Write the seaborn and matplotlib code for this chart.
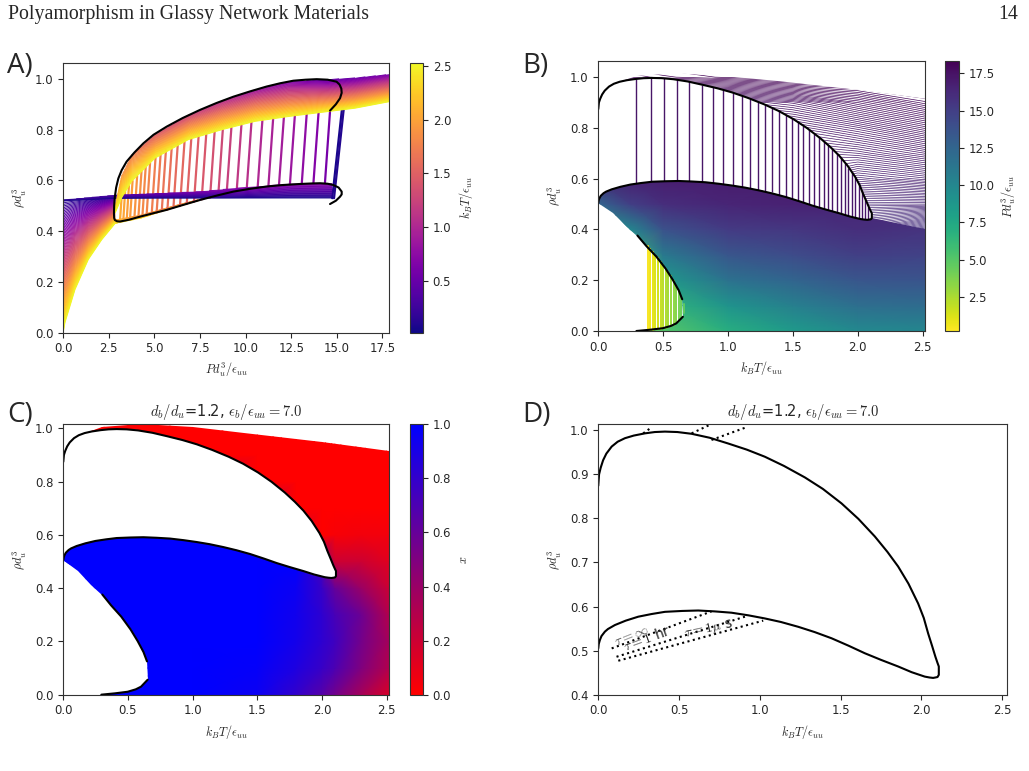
#!/usr/bin/env python3
# -*- coding: utf-8 -*-
"""
Phase diagram figure, d_b/d_u = 1.2, eps_b/eps_uu = 7.0

A) isotherms in the P-rho plane, B) isobars in the T-rho plane,
C) bonded fraction x, D) binodal with glass transition lines
"""

import numpy as np
import matplotlib.pyplot as plt
from matplotlib import cm
from matplotlib.colors import Normalize, LinearSegmentedColormap
from matplotlib.patches import Polygon
import seaborn as sns

sns.set_style('ticks')
plt.rcParams.update({'font.family': ['DejaVu Sans'], 'mathtext.fontset': 'cm',
                     'xtick.labelsize': 8.4, 'ytick.labelsize': 8.4,
                     'axes.labelsize': 8.8, 'axes.titlesize': 10.5,
                     'axes.edgecolor': '0.2', 'axes.linewidth': 0.8})

# ---------------- data ----------------
# binodal loop in the T-rho plane (dense branch first, then back along the low-density branch)
bin_T = [0.0, 0.005, 0.015, 0.03, 0.05, 0.083, 0.12, 0.165, 0.22, 0.289, 0.35, 0.413, 0.49, 0.578,
         0.69, 0.804, 0.92, 1.031, 1.15, 1.279, 1.39, 1.506, 1.61, 1.712, 1.79, 1.856, 1.92, 1.980,
         2.015, 2.042, 2.067, 2.087, 2.100, 2.108, 2.108, 2.100, 2.087, 2.073, 2.05, 2.021, 1.94,
         1.856, 1.75, 1.650, 1.55, 1.444, 1.34, 1.238, 1.13, 1.031, 0.93, 0.825, 0.72, 0.619, 0.52,
         0.413, 0.33, 0.248, 0.17, 0.103, 0.06, 0.041, 0.02, 0.010, 0.003, 0.0]
bin_rho = [0.874, 0.900, 0.915, 0.932, 0.947, 0.963, 0.974, 0.982, 0.988, 0.993, 0.996, 0.997, 0.996,
           0.992, 0.983, 0.970, 0.956, 0.940, 0.919, 0.893, 0.867, 0.834, 0.799, 0.759, 0.724, 0.691,
           0.652, 0.607, 0.574, 0.539, 0.510, 0.486, 0.472, 0.464, 0.445, 0.440, 0.439, 0.438, 0.439,
           0.441, 0.451, 0.464, 0.479, 0.494, 0.511, 0.528, 0.542, 0.554, 0.565, 0.573, 0.580, 0.586,
           0.589, 0.591, 0.590, 0.588, 0.583, 0.577, 0.568, 0.558, 0.549, 0.543, 0.533, 0.524, 0.515,
           0.505]

# gas-liquid coexistence (low density), upper and lower branch
gas_up_T = [0.302, 0.37, 0.448, 0.52, 0.575, 0.62, 0.647]
gas_up_rho = [0.376, 0.335, 0.293, 0.245, 0.201, 0.16, 0.125]
gas_lo_T = [0.294, 0.40, 0.498, 0.56, 0.601, 0.652]
gas_lo_rho = [0.0, 0.005, 0.011, 0.02, 0.030, 0.056]

# outer edges of the coloured region in B and C
env_T = [0.15, 0.3, 0.6, 1.0, 1.4, 2.0, 2.52]
env_rho = [0.98, 1.005, 1.015, 1.003, 0.984, 0.95, 0.915]
edge_T = [0.0, 0.115, 0.218, 0.302]
edge_rho = [0.505, 0.464, 0.411, 0.376]
split_rho = 0.40      # where the upper and lower isobar families meet at the right edge

# binodal in the P-rho plane (panel A)
binP_P = [14.63, 14.95, 15.18, 15.27, 15.25, 15.15, 14.99, 14.5, 13.9, 13.3, 12.62, 11.9, 11.15,
          10.25, 9.33, 8.4, 7.5, 6.55, 5.67, 4.95, 4.39, 3.9, 3.47, 3.2, 3.02, 2.9, 2.83, 2.79, 2.78,
          2.79, 2.83, 2.95, 3.11, 3.6, 4.2, 4.9, 5.67, 6.6, 7.5, 8.4, 9.33, 10.25, 11.15, 12.05,
          12.98, 13.6, 14.08, 14.5, 14.81, 15.1, 15.27, 15.27, 15.18, 14.95, 14.63]
binP_rho = [0.875, 0.9, 0.924, 0.945, 0.962, 0.978, 0.989, 0.997, 0.999, 0.997, 0.993, 0.983, 0.970,
            0.951, 0.930, 0.905, 0.878, 0.846, 0.812, 0.78, 0.746, 0.71, 0.674, 0.64, 0.608, 0.572,
            0.536, 0.5, 0.470, 0.452, 0.444, 0.439, 0.438, 0.445, 0.457, 0.47, 0.484, 0.504, 0.523,
            0.54, 0.556, 0.567, 0.576, 0.582, 0.586, 0.588, 0.589, 0.587, 0.582, 0.572, 0.556, 0.545,
            0.536, 0.52, 0.507]

# panel A isotherm families: edges of each bundle and the temperature on each edge
fan_P = [0.0, 0.09, 0.64, 1.37, 2.1, 2.84]
fan_bot = [0.0, 0.037, 0.168, 0.287, 0.365, 0.43]
fan_top = [0.522, 0.523, 0.525, 0.527, 0.529, 0.531]
fan_Tbot = [2.52, 2.52, 2.52, 2.52, 2.52, 2.52]
fan_Ttop = [0.12, 0.12, 0.13, 0.15, 0.2, 0.3]

band_P = [2.84, 3.2, 3.75, 5.03, 6.86, 8.69, 10.52, 12.34, 14.54, 16.0, 17.9]
band_bot = [0.47, 0.53, 0.595, 0.687, 0.76, 0.799, 0.832, 0.851, 0.871, 0.884, 0.91]
band_top = [0.50, 0.62, 0.70, 0.78, 0.857, 0.913, 0.957, 0.99, 0.998, 1.004, 1.018]
band_Tbot = [2.52, 2.52, 2.52, 2.52, 2.52, 2.52, 2.52, 2.52, 2.52, 2.52, 2.52]
band_Ttop = [2.2, 1.9, 1.7, 1.45, 1.25, 1.05, 0.85, 0.65, 0.45, 0.5, 0.6]

lowb_P = [0.0, 2.84, 5.0, 7.5, 10.0, 12.5, 14.75]
lowb_bot = [0.521, 0.529, 0.530, 0.530, 0.530, 0.530, 0.530]
lowb_top = [0.523, 0.542, 0.548, 0.556, 0.573, 0.586, 0.588]
lowb_Tbot = [0.04, 0.04, 0.04, 0.04, 0.04, 0.04, 0.04]
lowb_Ttop = [0.15, 0.35, 0.5, 0.6, 0.7, 0.72, 0.72]

org_P = [2.84, 4.3, 5.95, 7.4]
org_bot = [0.43, 0.452, 0.49, 0.52]
org_top = [0.444, 0.464, 0.497, 0.524]
org_Tbot = [2.4, 2.3, 2.2, 2.1]
org_Ttop = [2.0, 1.9, 1.8, 1.7]

# panel A tie lines (start, end, temperature)
tieA_P0 = [3.11, 3.29, 3.48, 3.66, 3.90, 4.12, 4.34, 4.57, 4.85, 5.12, 5.40, 5.71, 6.04, 6.40, 6.77,
           7.17, 7.59, 8.05, 8.50, 8.96, 9.51, 10.06, 10.66, 11.25, 11.83, 12.43, 13.08, 13.72, 14.35,
           14.75, 14.85]
tieA_rho0 = [0.44, 0.442, 0.445, 0.448, 0.452, 0.456, 0.46, 0.464, 0.469, 0.474, 0.479, 0.485, 0.492,
             0.499, 0.507, 0.516, 0.525, 0.533, 0.541, 0.549, 0.558, 0.565, 0.571, 0.577, 0.581, 0.584,
             0.587, 0.589, 0.588, 0.53, 0.53]
tieA_P1 = [3.2, 3.39, 3.6, 3.8, 4.05, 4.29, 4.52, 4.76, 5.06, 5.34, 5.63, 5.95, 6.28, 6.65, 7.02,
           7.42, 7.84, 8.3, 8.75, 9.22, 9.77, 10.32, 10.92, 11.51, 12.1, 12.7, 13.35, 14.0, 14.63,
           15.28, 15.38]
tieA_rho1 = [0.535, 0.555, 0.578, 0.598, 0.617, 0.635, 0.652, 0.669, 0.689, 0.705, 0.719, 0.732, 0.743,
             0.753, 0.763, 0.772, 0.781, 0.791, 0.8, 0.808, 0.818, 0.828, 0.836, 0.843, 0.849, 0.855,
             0.861, 0.866, 0.872, 0.878, 0.88]
tieA_T = [2.05, 2.02, 1.98, 1.95, 1.9, 1.86, 1.82, 1.78, 1.74, 1.7, 1.65, 1.62, 1.58, 1.55, 1.51,
          1.47, 1.42, 1.36, 1.3, 1.22, 1.15, 1.08, 1.01, 0.96, 0.91, 0.85, 0.77, 0.69, 0.6, 0.06, 0.1]

# panel B pressure field (rows: rho, columns: T)
fieldB_T = [0.0, 0.25, 0.5, 1.0, 1.5, 2.0, 2.52]
fieldB_rho = [0.0, 0.1, 0.2, 0.3, 0.4, 0.5, 0.6, 0.7, 0.8, 0.9, 1.0, 1.07]
fieldB_P = [[1.0, 3.5, 5.0, 7.0, 8.5, 9.8, 10.0],
            [2.0, 4.0, 6.5, 9.0, 10.5, 11.8, 12.0],
            [3.0, 4.5, 8.5, 11.5, 12.5, 13.5, 13.6],
            [5.0, 5.5, 11.0, 13.5, 14.2, 15.0, 14.8],
            [8.0, 10.0, 13.8, 15.2, 15.5, 16.0, 15.7],
            [12.5, 15.0, 16.0, 16.5, 16.7, 16.4, 16.4],
            [16.8, 16.8, 16.9, 17.0, 17.0, 16.8, 16.9],
            [17.0, 17.0, 17.0, 17.1, 17.1, 17.15, 17.3],
            [17.2, 17.2, 17.2, 17.3, 17.35, 17.5, 17.7],
            [17.6, 17.6, 17.6, 17.6, 17.7, 17.9, 18.1],
            [18.2, 18.2, 18.25, 18.3, 18.35, 18.35, 18.35],
            [18.35, 18.35, 18.35, 18.35, 18.35, 18.35, 18.35]]

# panel B tie lines (vertical, coexistence)
tieB_T = [0.287, 0.409, 0.504, 0.606, 0.703, 0.798, 0.882, 0.964, 1.035, 1.107, 1.171, 1.23, 1.286,
          1.342, 1.393, 1.444, 1.49, 1.536, 1.58, 1.621, 1.662, 1.7, 1.736, 1.772, 1.805, 1.838,
          1.869, 1.9, 1.928, 1.956, 1.981, 2.007, 2.033, 2.056, 2.079]
tieB_hi = [0.993, 0.997, 0.996, 0.991, 0.983, 0.971, 0.960, 0.949, 0.939, 0.926, 0.914, 0.903, 0.891,
           0.878, 0.865, 0.851, 0.838, 0.824, 0.809, 0.794, 0.778, 0.764, 0.748, 0.733, 0.716, 0.70,
           0.683, 0.662, 0.644, 0.625, 0.606, 0.582, 0.55, 0.52, 0.49]
tieB_lo = [0.58, 0.588, 0.59, 0.591, 0.589, 0.586, 0.582, 0.577, 0.573, 0.567, 0.560, 0.555, 0.553,
           0.547, 0.535, 0.528, 0.521, 0.514, 0.506, 0.499, 0.492, 0.486, 0.481, 0.476, 0.471, 0.466,
           0.462, 0.458, 0.454, 0.450, 0.447, 0.444, 0.442, 0.44, 0.439]
tieB_P = 17.3

# panel B gas-liquid tie lines
stripe_T = [0.38, 0.40, 0.42, 0.44, 0.46, 0.48, 0.50, 0.52, 0.54, 0.56, 0.58, 0.60, 0.62, 0.64, 0.66]
stripe_top = [0.335, 0.322, 0.31, 0.298, 0.286, 0.273, 0.259, 0.245, 0.231, 0.215, 0.197, 0.178,
              0.158, 0.135, 0.105]
stripe_bot = [0.003, 0.004, 0.005, 0.007, 0.008, 0.009, 0.011, 0.013, 0.016, 0.02, 0.025, 0.03,
              0.038, 0.05, 0.07]
stripe_P = [0.4, 0.6, 0.9, 1.2, 1.5, 1.8, 2.1, 2.4, 2.7, 3.0, 3.3, 3.6, 3.9, 4.2, 4.6]

# panel C bonded fraction (rows: rho, columns: T)
fieldC_T = [0.0, 0.5, 1.0, 1.5, 1.8, 2.0, 2.1, 2.3, 2.52]
fieldC_rho = [0.0, 0.1, 0.2, 0.3, 0.4, 0.5, 0.6, 0.7, 0.8, 0.9, 1.07]
fieldC_x = [[1, 1, 1, 0.95, 0.8, 0.66, 0.55, 0.35, 0.15],
            [1, 1, 1, 0.98, 0.88, 0.78, 0.7, 0.5, 0.3],
            [1, 1, 1, 1, 0.92, 0.82, 0.75, 0.55, 0.35],
            [1, 1, 1, 1, 0.93, 0.82, 0.72, 0.58, 0.3],
            [1, 1, 1, 1, 0.95, 0.78, 0.6, 0.4, 0.2],
            [1, 1, 1, 1, 1, 0.7, 0.2, 0.2, 0.12],
            [1, 1, 1, 1, 0.3, 0.0, 0.03, 0.05, 0.05],
            [0.5, 1, 1, 0.5, 0, 0, 0, 0, 0],
            [0, 0.5, 0.5, 0, 0, 0, 0, 0, 0],
            [0, 0, 0, 0, 0, 0, 0, 0, 0],
            [0, 0, 0, 0, 0, 0, 0, 0, 0]]

# panel D glass transition lines
tau_inf_T, tau_inf_rho = [0.083, 0.701], [0.505, 0.589]
tau_hr_T, tau_hr_rho = [0.113, 0.908], [0.486, 0.577]
tau_us_T, tau_us_rho = [0.124, 1.021], [0.477, 0.568]
tau_inf_hi_T, tau_inf_hi_rho = [0.278, 0.32], [0.993, 1.004]
tau_hr_hi_T, tau_hr_hi_rho = [0.578, 0.70], [0.993, 1.014]
tau_us_hi_T, tau_us_hi_rho = [0.701, 0.918], [0.978, 1.007]

xlab_T = r'$k_BT/\epsilon_{uu}$'
xlab_P = r'$Pd_u^3/\epsilon_{uu}$'
ylab = r'$\rho d_u^3$'
title = r'$d_b/d_u$=1.2, $\epsilon_b/\epsilon_{uu}=7.0$'

# ---------------- figure ----------------
fig = plt.figure(figsize=(10.29, 7.71), dpi=100)
axA = fig.add_axes([0.0615, 0.5685, 0.3168, 0.3502])
caxA = fig.add_axes([0.3984, 0.5685, 0.0126, 0.3502])
axB = fig.add_axes([0.5814, 0.5707, 0.3178, 0.3506])
caxB = fig.add_axes([0.9184, 0.5707, 0.0131, 0.3506])
axC = fig.add_axes([0.0615, 0.0990, 0.3168, 0.3507])
caxC = fig.add_axes([0.3984, 0.0990, 0.0126, 0.3507])
axD = fig.add_axes([0.5814, 0.0990, 0.3972, 0.3507])

normA = Normalize(0.02, 2.53)
normB = Normalize(0.2, 18.35)
normC = Normalize(0.0, 1.0)
cmapA = plt.get_cmap('plasma')
cmapB = plt.get_cmap('viridis_r')
cmapC = LinearSegmentedColormap.from_list('red_blue', ['red', 'blue'])
levelsA = np.arange(0.02, 2.53, 0.03)


def draw_bundle(ax, P, bot, top, Tbot, Ttop):
    # isotherms between two edges, drawn as contour lines of T
    X = np.array([P, P])
    Y = np.array([bot, top])
    Z = np.array([Tbot, Ttop])
    ax.contour(X, Y, Z, levels=levelsA, cmap=cmapA, norm=normA, linewidths=0.7)


def black_curves(ax, gas=True):
    sns.lineplot(x=bin_T, y=bin_rho, sort=False, estimator=None, color='k', lw=1.5, ax=ax)
    if gas:
        sns.lineplot(x=gas_up_T, y=gas_up_rho, sort=False, estimator=None, color='k', lw=1.5, ax=ax)
        sns.lineplot(x=gas_lo_T, y=gas_lo_rho, sort=False, estimator=None, color='k', lw=1.5, ax=ax)


# regions of the T-rho plane that carry colour in B and C
bin_pts = list(zip(bin_T, bin_rho))
k_tip = bin_rho.index(0.445)          # bottom of the vertical end of the loop
k_env = bin_T.index(0.165)            # where the top envelope leaves the loop
env_pts = list(zip(env_T, env_rho))
gas_pts = ([(env_T[-1], 0.0), (gas_lo_T[0], 0.0)] + list(zip(gas_lo_T, gas_lo_rho))
           + list(zip(gas_up_T, gas_up_rho))[::-1] + list(zip(edge_T, edge_rho))[::-1])
region_all = env_pts + gas_pts + bin_pts[::-1][:len(bin_pts) - k_env]
region_up = env_pts + [(env_T[-1], split_rho)] + bin_pts[k_tip:k_env - 1:-1]
region_lo = bin_pts[k_tip:][::-1] + [(env_T[-1], split_rho)] + gas_pts


def clip(artist, ax, verts):
    artist.set_clip_path(Polygon(verts, closed=True, transform=ax.transData))


# A) isotherms
draw_bundle(axA, fan_P, fan_bot, fan_top, fan_Tbot, fan_Ttop)
draw_bundle(axA, org_P, org_bot, org_top, org_Tbot, org_Ttop)
for p0, r0, p1, r1, t in zip(tieA_P0, tieA_rho0, tieA_P1, tieA_rho1, tieA_T):
    axA.plot([p0, p1], [r0, r1], color=cmapA(normA(t)), lw=1.6)
draw_bundle(axA, lowb_P, lowb_bot, lowb_top, lowb_Tbot, lowb_Ttop)
draw_bundle(axA, band_P, band_bot, band_top, band_Tbot, band_Ttop)
sns.lineplot(x=binP_P, y=binP_rho, sort=False, estimator=None, color='k', lw=1.5, ax=axA)
axA.set_xlim(0, 17.88)
axA.set_ylim(0, 1.064)
axA.set_xticks([0, 2.5, 5, 7.5, 10, 12.5, 15, 17.5])
axA.set_xlabel(xlab_P)
axA.set_ylabel(ylab)
cbA = fig.colorbar(cm.ScalarMappable(norm=normA, cmap=cmapA), cax=caxA)
cbA.set_label(xlab_T)

# B) isobars: dense lower family as a shaded field, upper family as separate lines
meshB = axB.pcolormesh(fieldB_T, fieldB_rho, np.array(fieldB_P), shading='gouraud',
                       cmap=cmapB, norm=normB)
clip(meshB, axB, region_lo)
csB = axB.contour(fieldB_T, fieldB_rho, np.array(fieldB_P), levels=np.arange(0.2, 18.4, 0.03),
                  cmap=cmapB, norm=normB, linewidths=0.5)
clip(csB, axB, region_up)
for t, lo, hi, p in zip(stripe_T, stripe_bot, stripe_top, stripe_P):
    axB.plot([t, t], [lo, hi], color=cmapB(normB(p)), lw=1.4)
axB.vlines(tieB_T, tieB_lo, tieB_hi, color=cmapB(normB(tieB_P)), lw=1.0)
black_curves(axB)
axB.set_xlim(0, 2.52)
axB.set_ylim(0, 1.065)
axB.set_xlabel(xlab_T)
axB.set_ylabel(ylab)
cbB = fig.colorbar(cm.ScalarMappable(norm=normB, cmap=cmapB), cax=caxB)
cbB.set_label(xlab_P)

# C) bonded fraction
meshC = axC.pcolormesh(fieldC_T, fieldC_rho, np.array(fieldC_x), shading='gouraud',
                       cmap=cmapC, norm=normC)
clip(meshC, axC, region_all)
black_curves(axC)
axC.set_xlim(0, 2.52)
axC.set_ylim(0, 1.015)
axC.set_xlabel(xlab_T)
axC.set_ylabel(ylab)
axC.set_title(title)
cbC = fig.colorbar(cm.ScalarMappable(norm=normC, cmap=cmapC), cax=caxC)
cbC.set_label(r'$x$')

# D) binodal and glass lines
black_curves(axD, gas=False)
for tx, ty in [(tau_inf_T, tau_inf_rho), (tau_hr_T, tau_hr_rho), (tau_us_T, tau_us_rho),
               (tau_inf_hi_T, tau_inf_hi_rho), (tau_hr_hi_T, tau_hr_hi_rho),
               (tau_us_hi_T, tau_us_hi_rho)]:
    sns.lineplot(x=tx, y=ty, sort=False, estimator=None, color='k', lw=1.5, linestyle=':', ax=axD)
axD.text(0.21, 0.535, r'$\tau=\infty$', rotation=22, fontsize=10, color='0.35',
         ha='center', va='center')
axD.text(0.30, 0.527, r'$\tau=1$ hr', rotation=20, fontsize=10, color='0.15',
         ha='center', va='center')
axD.text(0.685, 0.549, r'$\tau=1\mu$ s', rotation=12, fontsize=10, color='0.15',
         ha='center', va='center')
axD.set_xlim(0, 2.53)
axD.set_ylim(0.4, 1.0136)
axD.set_xlabel(xlab_T)
axD.set_ylabel(ylab)
axD.set_title(title)

for cb in [cbA, cbB, cbC]:
    cb.ax.tick_params(labelsize=8.4)
    cb.outline.set_linewidth(0.8)

# panel letters and page header
for lab, x, y in [('A)', 0.007, 0.905), ('B)', 0.508, 0.905), ('C)', 0.007, 0.453),
                  ('D)', 0.508, 0.453)]:
    fig.text(x, y, lab, fontsize=20, family='Open Sans')
fig.text(0.008, 0.975, 'Polyamorphism in Glassy Network Materials', fontsize=14.3,
         family='Liberation Serif')
fig.text(0.989, 0.975, '14', fontsize=14.3, family='Liberation Serif', ha='right')

fig.savefig('out.png', dpi=100)
